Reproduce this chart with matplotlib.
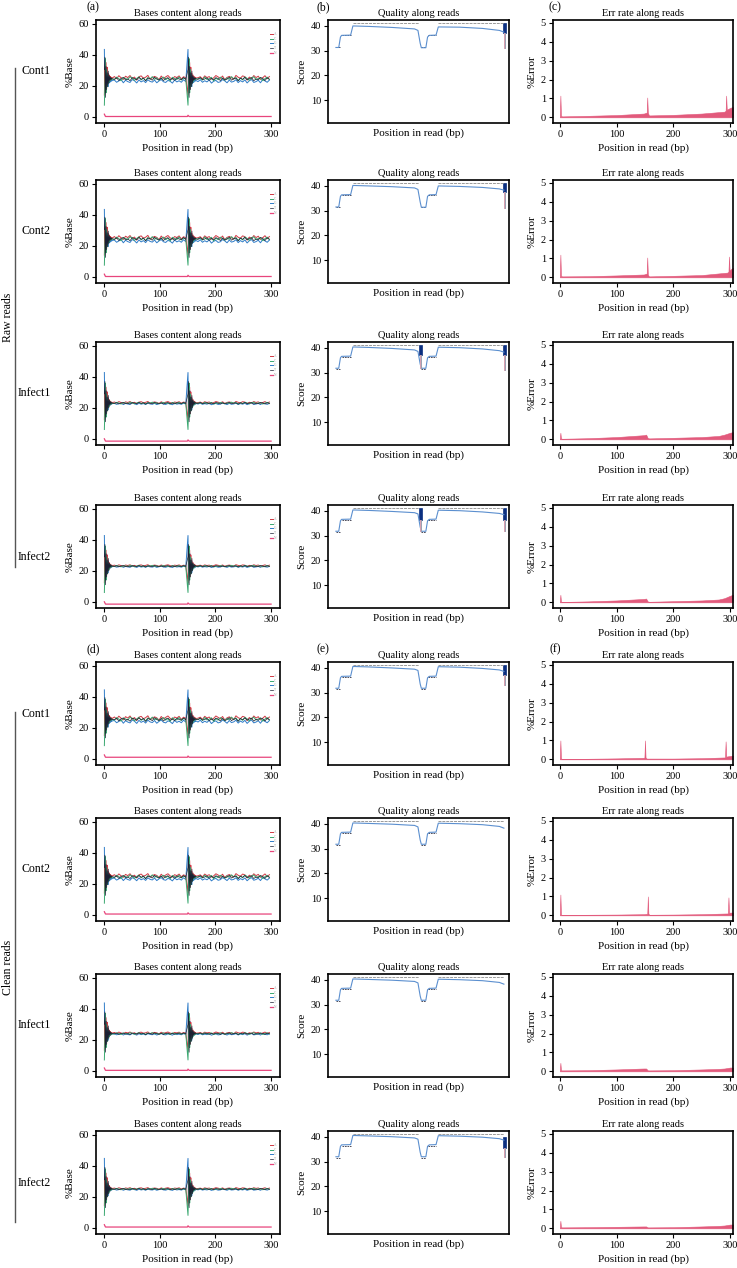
import matplotlib
matplotlib.use('Agg')
import matplotlib.pyplot as plt
from matplotlib.lines import Line2D
import numpy as np

plt.rcParams['font.family'] = ['Liberation Serif', 'DejaVu Serif']

samples = ['Cont1', 'Cont2', 'Infect1', 'Infect2', 'Cont1', 'Cont2', 'Infect1', 'Infect2']
groups = ['Raw reads', 'Clean reads']
letters = ['(a)', '(b)', '(c)', '(d)', '(e)', '(f)']
bases = ['A', 'C', 'G', 'T', 'N']
base_colors = ['#d23a45', '#3aa870', '#2f7cc8', '#1c2033', '#e8457c']

# %Base over the first 15 bp of each mate
spike_a = [14, 31, 20, 35, 18, 32, 22, 28, 23, 27, 23.5, 26, 24.5, 25.5, 25]
spike_c = [8, 22, 38, 16, 31, 20, 28, 22, 26.5, 23, 26, 24, 25.5, 24.5, 25]
spike_g = [45, 17, 27, 20, 33, 21, 29, 21, 27, 23.5, 25.5, 24, 25.5, 24.5, 25]
spike_t = [31, 39, 13, 33, 18, 29, 20, 30, 22, 27, 24, 26, 24.5, 25.5, 25]
# wiggle of each base around its level, every 4 bp after the first 15
wig_a = [0.9, -0.3, 1.4, 0.2, -0.8, 1.1, 0.3, 1.5, -0.4, 0.6, -1.2, 0.8, 1.3, -0.1, 0.5, 1.6, -0.7,
         0.2, 1.0, 0.4, -0.9, 1.2, -0.2, 0.7, 1.5, 0.1, -0.6, 0.9, 0.3, 1.3, -0.5, 0.8, 0.2]
wig_c = [-0.5, 1.0, 0.1, -1.1, 0.7, 0.2, -0.4, 1.2, 0.5, -0.9, 0.3, 1.1, -0.6, 0.4, -1.0, 0.8, 0.0,
         1.3, -0.3, 0.6, -0.8, 0.2, 1.0, -0.5, 0.4, -1.2, 0.9, 0.1, -0.4, 1.1, -0.7, 0.5, 0.0]
wig_g = [0.2, -1.1, -0.3, 0.6, -1.4, 0.1, -0.7, -1.2, 0.5, -0.2, -1.5, 0.3, -0.9, -0.1, -1.3, 0.4, -0.6,
         -1.0, 0.2, -1.4, -0.3, 0.5, -0.8, -1.2, 0.0, -0.5, -1.6, 0.3, -0.9, -0.2, -1.1, 0.4, -0.7]
wig_t = [-0.2, 0.6, -1.0, 0.3, 0.8, -0.6, 0.0, -1.1, 0.7, 0.2, -0.5, 0.9, -0.3, 0.5, -1.2, 0.4, 0.1,
         -0.8, 1.0, -0.2, -0.7, 0.5, -1.0, 0.2, 0.7, -0.6, 0.3, -0.9, 0.6, -0.1, -0.5, 0.8, -0.3]

# plateau level of A, C, G, T in each panel, spread of wiggle, N level
base_levels = [
    [25.0, 24.5, 23.5, 24.5],
    [25.0, 24.5, 23.5, 24.5],
    [23.3, 23.0, 22.8, 23.0],
    [23.3, 23.0, 22.8, 23.0],
    [26.0, 25.5, 24.5, 25.5],
    [25.0, 24.5, 23.5, 24.5],
    [24.3, 24.0, 23.8, 24.0],
    [25.3, 25.0, 24.8, 25.0],
]
base_spread = [1.1, 1.1, 0.5, 0.4, 1.1, 1.0, 0.5, 0.4]
n_levels = [0.2, 0.2, -1.5, -1.5, 1.0, 0.5, 0.3, 0.5]

# quality: mean score at key positions
qual_pos = [1, 6, 9, 11, 27, 31, 60, 100, 140, 146, 150, 152, 160, 163, 166, 178, 182, 220, 260, 290, 298]
qual_mean = [
    [31.3, 31.3, 35.5, 36.2, 36.3, 40.0, 39.8, 39.4, 38.8, 38.2, 33.0, 31.2, 31.2, 35.5, 36.2, 36.3, 39.6, 39.5, 39.0, 38.2, 37.5],
    [31.5, 31.5, 35.8, 36.4, 36.5, 40.2, 40.0, 39.7, 39.2, 38.6, 33.5, 31.4, 31.4, 35.8, 36.4, 36.5, 40.0, 39.8, 39.4, 38.8, 38.3],
    [31.8, 31.8, 36.0, 36.6, 36.7, 40.4, 40.2, 39.8, 39.2, 38.6, 33.5, 31.8, 31.8, 36.0, 36.6, 36.7, 40.3, 40.1, 39.6, 38.9, 38.3],
    [31.8, 31.8, 36.0, 36.6, 36.7, 40.4, 40.2, 39.8, 39.3, 38.8, 33.5, 31.8, 31.8, 36.0, 36.6, 36.7, 40.3, 40.1, 39.6, 39.0, 38.5],
    [31.8, 31.8, 36.0, 36.6, 36.7, 40.6, 40.4, 40.0, 39.5, 39.0, 33.5, 31.8, 31.8, 36.0, 36.6, 36.7, 40.5, 40.3, 39.8, 39.2, 38.6],
    [31.8, 31.8, 36.0, 36.6, 36.7, 40.4, 40.2, 39.9, 39.4, 38.8, 33.5, 31.8, 31.8, 36.0, 36.6, 36.7, 40.3, 40.1, 39.7, 39.0, 38.3],
    [31.8, 31.8, 36.0, 36.6, 36.7, 40.4, 40.2, 39.9, 39.4, 38.8, 33.5, 31.8, 31.8, 36.0, 36.6, 36.7, 40.3, 40.1, 39.7, 39.0, 38.3],
    [32.0, 32.0, 36.2, 36.8, 36.9, 40.6, 40.4, 40.1, 39.6, 39.1, 33.8, 32.0, 32.0, 36.2, 36.8, 36.9, 40.5, 40.3, 39.9, 39.3, 38.7],
]
# boxes drawn on the quality plot: (position, q1, q3, lower whisker)
qual_boxes = [
    [(299, 37.0, 41.0, 31.0)],
    [(299, 37.5, 41.0, 31.0)],
    [(150, 37.0, 41.0, 32.0), (299, 37.0, 41.0, 31.0)],
    [(150, 36.5, 41.0, 32.0), (299, 36.5, 41.0, 32.0)],
    [(299, 37.0, 41.0, 33.0)],
    [],
    [],
    [(299, 35.5, 40.0, 32.0)],
]

# error rate at key positions (spikes at mate starts / ends)
err_pos = [
    [0, 1, 2, 4, 50, 100, 148, 153, 154, 155, 157, 200, 250, 290, 292, 293, 294, 300, 305],
    [0, 1, 2, 4, 50, 100, 148, 153, 154, 155, 157, 200, 250, 295, 297, 298, 299, 302, 305],
    [0, 1, 2, 4, 50, 100, 148, 152, 155, 158, 200, 250, 280, 290, 300, 305],
    [0, 1, 2, 4, 50, 100, 148, 152, 155, 158, 200, 250, 280, 290, 300, 305],
    [0, 1, 2, 4, 50, 100, 148, 149, 150, 151, 153, 200, 250, 291, 292, 293, 294, 305],
    [0, 1, 2, 4, 50, 100, 148, 154, 155, 156, 158, 200, 250, 296, 297, 298, 299, 305],
    [0, 1, 2, 4, 50, 100, 148, 152, 155, 158, 200, 250, 280, 290, 300, 305],
    [0, 1, 2, 4, 50, 100, 148, 152, 155, 158, 200, 250, 280, 290, 300, 305],
]
err_val = [
    [0, 1.15, 0.08, 0.05, 0.08, 0.12, 0.2, 0.25, 1.05, 0.25, 0.1, 0.13, 0.2, 0.3, 0.35, 1.15, 0.4, 0.5, 0.55],
    [0, 1.2, 0.08, 0.05, 0.06, 0.1, 0.15, 0.2, 1.05, 0.15, 0.05, 0.08, 0.12, 0.25, 0.3, 1.1, 0.35, 0.45, 0.5],
    [0, 0.35, 0.05, 0.03, 0.06, 0.12, 0.22, 0.25, 0.06, 0.05, 0.08, 0.12, 0.18, 0.25, 0.35, 0.38],
    [0, 0.4, 0.04, 0.02, 0.05, 0.1, 0.18, 0.2, 0.04, 0.03, 0.06, 0.1, 0.15, 0.22, 0.35, 0.4],
    [0, 1.0, 0.05, 0.02, 0.03, 0.05, 0.08, 0.1, 1.0, 0.1, 0.04, 0.04, 0.06, 0.1, 0.95, 0.12, 0.15, 0.2],
    [0, 1.1, 0.04, 0.02, 0.03, 0.04, 0.06, 0.08, 1.0, 0.08, 0.03, 0.04, 0.06, 0.1, 0.95, 0.12, 0.14, 0.15],
    [0, 0.45, 0.06, 0.05, 0.06, 0.1, 0.15, 0.15, 0.05, 0.05, 0.06, 0.1, 0.13, 0.15, 0.2, 0.2],
    [0, 0.4, 0.06, 0.05, 0.06, 0.08, 0.1, 0.1, 0.05, 0.05, 0.06, 0.1, 0.13, 0.15, 0.2, 0.2],
]

W, H = 737, 1268
row_tops = [20, 180, 342, 505, 662, 818, 974, 1131]
row_h = 103
col_left = [96, 328, 553]
col_w = [184, 181, 180]

fig = plt.figure(figsize=(W / 100, H / 100), dpi=100)


def px_axes(left, top, width, height):
    return fig.add_axes([left / W, 1 - (top + height) / H, width / W, height / H])


def style(ax):
    for s in ax.spines.values():
        s.set_linewidth(1.2)
    ax.tick_params(direction='out', length=3, width=0.8, labelsize=7.5, pad=2)


spikes = [spike_a, spike_c, spike_g, spike_t]
wigs = [wig_a, wig_c, wig_g, wig_t]
x_spike1 = np.arange(1, 16)
x_plat1 = np.arange(19, 150, 4)
x_spike2 = np.arange(151, 166)
x_plat2 = np.arange(169, 301, 4)

for r in range(8):
    top = row_tops[r]
    # bases content
    ax = px_axes(col_left[0], top, col_w[0], row_h)
    for b in [2, 0, 1, 3]:
        lvl = base_levels[r][b]
        sp = np.array(spikes[b]) - 25 + lvl
        wg = lvl + base_spread[r] * np.array(wigs[b])
        x = np.concatenate([x_spike1, x_plat1, x_spike2, x_plat2])
        y = np.concatenate([sp, wg[:len(x_plat1)], sp, wg[::-1][:len(x_plat2)]])
        ax.plot(x, y, color=base_colors[b], lw=0.5 if b == 3 else 0.7, label=bases[b])
    n = n_levels[r]
    ax.plot([1, 3, 150, 151, 153, 300], [n + 1.5, n, n, n + 0.8, n, n], color=base_colors[4], lw=0.9, label='N')
    ax.set_xlim(-14, 316)
    ax.set_ylim(-4, 62.5)
    ax.set_xticks([0, 100, 200, 300])
    ax.set_yticks([0, 20, 40, 60])
    ax.set_title('Bases content along reads', fontsize=7.5, pad=3)
    ax.set_xlabel('Position in read (bp)', fontsize=8, labelpad=3)
    ax.set_ylabel('%Base', fontsize=8, labelpad=3)
    handles, labels = ax.get_legend_handles_labels()
    order = [labels.index(k) for k in bases]
    leg = ax.legend([handles[i] for i in order], bases, loc='upper right', bbox_to_anchor=(0.99, 0.9),
                    fontsize=2.5, frameon=False, handlelength=0.8, labelspacing=0.2, handletextpad=0.3, borderpad=0)
    for t in leg.get_texts():
        t.set_color('#999999')
    style(ax)

    # quality
    ax = px_axes(col_left[1], top, col_w[1], row_h)
    for x0, x1 in [(31, 148), (182, 298)]:
        ax.plot([x0, x1], [41, 41], color='#9a9a9a', lw=0.7, ls=(0, (3, 1)))
    for x0, x1, yv in [(1, 8, 31.5), (11, 27, 36.5), (152, 161, 31.5), (164, 178, 36.5)]:
        ax.plot([x0, x1], [yv, yv], color='#333344', lw=0.6, ls=(0, (2, 1)))
    ax.plot(qual_pos, qual_mean[r], color='#5b8fcf', lw=0.8)
    for (bx, q1, q3, lo) in qual_boxes[r]:
        ax.plot([bx - 1, bx - 1], [lo, q1], color='#d8a0b0', lw=0.7)
        ax.plot([bx + 1, bx + 1], [lo, q1], color='#9aa0b0', lw=0.7)
        ax.bar(bx, q3 - q1, bottom=q1, width=6, color='#0b2f80', edgecolor='#0b2f80', lw=0.5)
    ax.set_xlim(-13, 307)
    ax.set_ylim(0.8, 42.4)
    ax.set_xticks([])
    ax.set_yticks([10, 20, 30, 40])
    ax.set_title('Quality along reads', fontsize=7.5, pad=3)
    ax.set_xlabel('Position in read (bp)', fontsize=8, labelpad=4)
    ax.set_ylabel('Score', fontsize=8, labelpad=3)
    style(ax)

    # error rate
    ax = px_axes(col_left[2], top, col_w[2], row_h)
    ax.fill_between(err_pos[r], err_val[r], 0, color='#e25a7c', lw=0.4, edgecolor='#e25a7c')
    ax.set_xlim(-12, 305)
    ax.set_ylim(-0.3, 5.15)
    ax.set_xticks([0, 100, 200, 300])
    ax.set_yticks([0, 1, 2, 3, 4, 5])
    ax.set_title('Err rate along reads', fontsize=7.5, pad=3)
    ax.set_xlabel('Position in read (bp)', fontsize=8, labelpad=3)
    ax.set_ylabel('%Error', fontsize=8, labelpad=3)
    style(ax)

    fig.text(51 / W, 1 - (top + row_h / 2) / H, samples[r], ha='right', va='center', fontsize=8.5)

# panel letters
for i, r in enumerate([0, 4]):
    y = 1 - (row_tops[r] - 13) / H
    for c, lx in enumerate([93, 323, 555]):
        fig.text(lx / W, y, letters[i * 3 + c], ha='center', va='center', fontsize=8.5)

# group brackets
for (y0, y1), g in zip([(68, 567), (712, 1222)], groups):
    fig.add_artist(Line2D([15 / W, 15 / W], [1 - y0 / H, 1 - y1 / H], color='#555555', lw=1.0))
    fig.text(8 / W, 1 - (y0 + y1) / 2 / H, g, rotation=90, ha='center', va='center', fontsize=8.5)

fig.savefig('out.png', dpi=100)
